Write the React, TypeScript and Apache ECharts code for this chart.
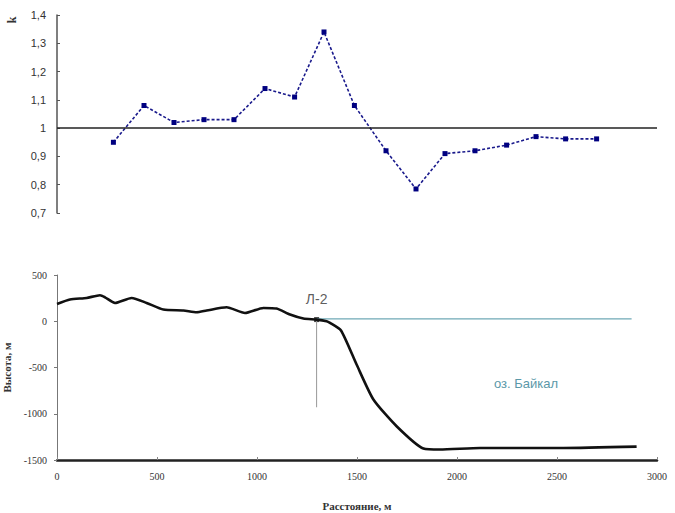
import { useEffect, useRef } from "react";
import * as echarts from "echarts";

// Top chart: coefficient k along the profile
const kDistances = [282, 435, 585, 735, 885, 1040, 1188, 1335, 1487, 1645, 1795, 1940, 2090, 2248, 2395, 2543, 2698];
const kValues = [0.95, 1.08, 1.02, 1.03, 1.03, 1.14, 1.11, 1.34, 1.08, 0.92, 0.785, 0.91, 0.92, 0.94, 0.97, 0.962, 0.962];

// Bottom chart: relief profile
const profileDistances = [0, 65, 148, 215, 240, 290, 373, 448, 532, 632, 698, 748, 848, 940, 1032, 1098, 1165, 1232, 1298, 1348, 1365, 1420, 1498, 1582, 1698, 1832, 1915, 2115, 2532, 2898];
const profileHeights = [187, 235, 252, 281, 259, 198, 252, 198, 126, 116, 97, 116, 151, 90, 144, 137, 72, 29, 18, 0, -18, -100, -468, -846, -1135, -1376, -1387, -1370, -1370, -1355];

// Point L-2 and lake level
const stationName = "Л-2";
const stationDistance = 1298;
const stationHeight = 18;
const stationLineBottom = -930;
const lakeLevel = 25;
const lakeEnd = 2873;
const lakeName = "оз. Байкал";

const kName = "k";
const yName = "Высота, м";
const xName = "Расстояние, м";

export default function App() {
  const ref = useRef<HTMLDivElement>(null);
  useEffect(() => {
    if (!ref.current) return;
    const chart = echarts.init(ref.current, null, { renderer: "svg" });
    const serif = "Liberation Serif";
    const sans = "Liberation Sans";
    chart.setOption({
      animation: false,
      backgroundColor: "#fff",
      grid: [
        { left: 57, width: 600, top: 15, height: 198, containLabel: false, outerBoundsMode: "none" },
        { left: 57, width: 600, top: 275, height: 185, containLabel: false, outerBoundsMode: "none" },
      ],
      xAxis: [
        {
          type: "value", gridIndex: 0, min: 0, max: 3000,
          show: false,
        },
        {
          type: "value", gridIndex: 1, min: 0, max: 3000, interval: 500,
          axisLine: { onZero: false, lineStyle: { color: "#222", width: 2.5 } },
          axisTick: { inside: true, length: 3, lineStyle: { color: "#888" } },
          axisLabel: { color: "#333", fontFamily: serif, fontSize: 10, margin: 11, formatter: (v: number) => String(v) },
          splitLine: { show: false },
          name: xName, nameLocation: "middle", nameGap: 40,
          nameTextStyle: { fontFamily: serif, fontSize: 11, fontWeight: "bold", color: "#333" },
        },
      ],
      yAxis: [
        {
          type: "value", gridIndex: 0, min: 0.7, max: 1.4, interval: 0.1,
          axisLine: { show: true, lineStyle: { color: "#555", width: 1.5 } },
          axisTick: { show: true, inside: true, length: 3, lineStyle: { color: "#555" } },
          axisLabel: {
            color: "#333", fontFamily: sans, fontSize: 11, margin: 11,
            formatter: (v: number) => String(Math.round(v * 10) / 10).replace(".", ","),
          },
          splitLine: { show: false },
        },
        {
          type: "value", gridIndex: 1, min: -1500, max: 500, interval: 500,
          axisLine: { show: true, onZero: false, lineStyle: { color: "#777", width: 1 } },
          axisTick: { show: true, length: 3, lineStyle: { color: "#777" } },
          axisLabel: { color: "#333", fontFamily: serif, fontSize: 10, margin: 10, formatter: (v: number) => String(v) },
          splitLine: { show: false },
          name: yName, nameLocation: "middle", nameGap: 37, nameRotate: 90,
          nameTextStyle: { fontFamily: serif, fontSize: 11, fontWeight: "bold", color: "#333" },
        },
      ],
      series: [
        {
          type: "line", xAxisIndex: 0, yAxisIndex: 0,
          data: kDistances.map((d, i) => [d, kValues[i]]),
          symbol: "rect", symbolSize: 5,
          itemStyle: { color: "#000080" },
          lineStyle: { color: "#1a1a8c", width: 1.6, type: [3, 2] },
          markLine: {
            silent: true, symbol: "none", label: { show: false },
            lineStyle: { color: "#222", width: 1.5, type: "solid" },
            data: [{ yAxis: 1 }],
          },
        },
        {
          type: "line", xAxisIndex: 1, yAxisIndex: 1,
          data: [[stationDistance, lakeLevel], [lakeEnd, lakeLevel]],
          symbol: "none",
          lineStyle: { color: "#6fa9b6", width: 1.2 },
        },
        {
          type: "line", xAxisIndex: 1, yAxisIndex: 1,
          data: [[stationDistance, stationHeight], [stationDistance, stationLineBottom]],
          symbol: "none",
          lineStyle: { color: "#999", width: 1 },
        },
        {
          type: "line", xAxisIndex: 1, yAxisIndex: 1,
          data: profileDistances.map((d, i) => [d, profileHeights[i]]),
          symbol: "none", smooth: 0.2,
          lineStyle: { color: "#111", width: 2.6 },
        },
        {
          type: "scatter", xAxisIndex: 1, yAxisIndex: 1,
          data: [[stationDistance, stationHeight]],
          symbol: "rect", symbolSize: 5,
          itemStyle: { color: "#111" },
          label: {
            show: true, position: "top", distance: 11, formatter: stationName,
            fontFamily: sans, fontSize: 14, color: "#333",
          },
        },
      ],
      graphic: [
        {
          type: "text", x: 12, y: 20, rotation: Math.PI / 2,
          style: { text: kName, fontFamily: serif, fontSize: 12, fontWeight: "bold", fill: "#333", align: "center", verticalAlign: "middle" },
        },
        {
          type: "text", x: 526, y: 383,
          style: { text: lakeName, fontFamily: sans, fontSize: 13, fill: "#5b98a8", align: "center", verticalAlign: "middle" },
        },
      ],
    });
    return () => chart.dispose();
  }, []);
  return <div ref={ref} style={{ width: 675, height: 513, position: "absolute", left: 0, top: 0 }} />;
}
